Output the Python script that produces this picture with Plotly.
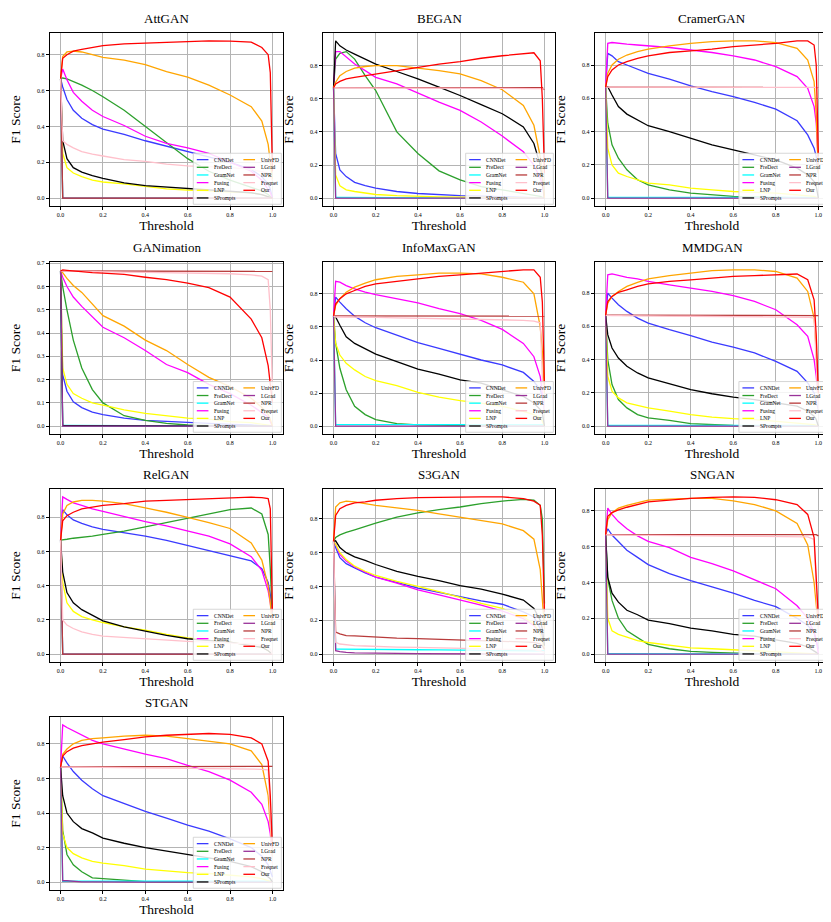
import plotly.graph_objects as go

# thresholds shared by every curve
thresholds = [0.0, 0.01, 0.03, 0.06, 0.1, 0.15, 0.2, 0.3, 0.4, 0.5, 0.6, 0.7, 0.8, 0.9, 0.95, 0.98, 0.99, 1.0]

methods = ["CNNDet", "FreDect", "GramNet", "Fusing", "LNP", "SPrompts",
           "UnivFD", "LGrad", "NPR", "Freqnet", "Our"]
colors = ["#3a3aff", "#2ca02c", "#00ffff", "#ff00ff", "#ffff00", "#000000",
          "#ffa500", "#993399", "#b83b3b", "#ffc0cb", "#ff0000"]

panel_names = ["AttGAN", "BEGAN", "CramerGAN", "GANimation", "InfoMaxGAN",
               "MMDGAN", "RelGAN", "S3GAN", "SNGAN", "STGAN"]

attgan = {
    "CNNDet": [0.667, 0.62, 0.55, 0.49, 0.445, 0.41, 0.385, 0.355, 0.32, 0.29, 0.26, 0.23, 0.20, 0.16, 0.12, 0.08, 0.05, 0.0],
    "FreDect": [0.667, 0.67, 0.665, 0.65, 0.63, 0.60, 0.565, 0.49, 0.40, 0.31, 0.22, 0.15, 0.10, 0.06, 0.04, 0.02, 0.01, 0.0],
    "GramNet": [0.667, 0.0, 0.0, 0.0, 0.0, 0.0, 0.0, 0.0, 0.0, 0.0, 0.0, 0.0, 0.0, 0.0, 0.0, 0.0, 0.0, 0.0],
    "Fusing": [0.667, 0.72, 0.66, 0.59, 0.54, 0.49, 0.455, 0.405, 0.345, 0.305, 0.28, 0.25, 0.20, 0.15, 0.10, 0.05, 0.03, 0.0],
    "LNP": [0.667, 0.25, 0.17, 0.14, 0.12, 0.10, 0.09, 0.08, 0.065, 0.052, 0.045, 0.04, 0.035, 0.03, 0.02, 0.01, 0.005, 0.0],
    "SPrompts": [0.667, 0.32, 0.22, 0.17, 0.145, 0.125, 0.11, 0.085, 0.07, 0.062, 0.055, 0.05, 0.04, 0.03, 0.02, 0.01, 0.005, 0.0],
    "UnivFD": [0.667, 0.79, 0.815, 0.82, 0.815, 0.80, 0.785, 0.77, 0.745, 0.705, 0.675, 0.63, 0.575, 0.51, 0.43, 0.30, 0.20, 0.10],
    "LGrad": [0.667, 0.0, 0.0, 0.0, 0.0, 0.0, 0.0, 0.0, 0.0, 0.0, 0.0, 0.0, 0.0, 0.0, 0.0, 0.0, 0.0, 0.0],
    "NPR": [0.667, 0.0, 0.0, 0.0, 0.0, 0.0, 0.0, 0.0, 0.0, 0.0, 0.0, 0.0, 0.0, 0.0, 0.0, 0.0, 0.0, 0.0],
    "Freqnet": [0.667, 0.32, 0.30, 0.28, 0.26, 0.245, 0.235, 0.215, 0.205, 0.19, 0.18, 0.175, 0.17, 0.16, 0.15, 0.14, 0.12, 0.10],
    "Our": [0.667, 0.78, 0.80, 0.82, 0.83, 0.84, 0.85, 0.86, 0.865, 0.87, 0.875, 0.877, 0.875, 0.87, 0.84, 0.80, 0.70, 0.15],
}

began = {
    "CNNDet": [0.667, 0.27, 0.17, 0.13, 0.095, 0.075, 0.06, 0.04, 0.028, 0.02, 0.015, 0.012, 0.01, 0.008, 0.006, 0.004, 0.002, 0.0],
    "FreDect": [0.667, 0.84, 0.875, 0.885, 0.84, 0.74, 0.65, 0.40, 0.27, 0.165, 0.11, 0.07, 0.05, 0.03, 0.02, 0.01, 0.005, 0.0],
    "GramNet": [0.667, 0.004, 0.004, 0.004, 0.004, 0.004, 0.004, 0.004, 0.004, 0.004, 0.004, 0.004, 0.004, 0.004, 0.004, 0.004, 0.004, 0.0],
    "Fusing": [0.667, 0.885, 0.885, 0.855, 0.81, 0.77, 0.73, 0.69, 0.635, 0.58, 0.53, 0.46, 0.375, 0.28, 0.20, 0.12, 0.08, 0.0],
    "LNP": [0.667, 0.14, 0.075, 0.05, 0.04, 0.03, 0.022, 0.015, 0.01, 0.008, 0.006, 0.005, 0.004, 0.003, 0.002, 0.001, 0.0, 0.0],
    "SPrompts": [0.667, 0.95, 0.92, 0.895, 0.87, 0.84, 0.81, 0.765, 0.72, 0.67, 0.62, 0.565, 0.51, 0.43, 0.33, 0.20, 0.12, 0.0],
    "UnivFD": [0.667, 0.70, 0.74, 0.765, 0.785, 0.795, 0.80, 0.80, 0.785, 0.77, 0.75, 0.71, 0.655, 0.56, 0.44, 0.25, 0.15, 0.0],
    "LGrad": [0.667, 0.0, 0.0, 0.0, 0.0, 0.0, 0.0, 0.0, 0.0, 0.0, 0.0, 0.0, 0.0, 0.0, 0.0, 0.0, 0.0, 0.0],
    "NPR": [0.667, 0.667, 0.667, 0.667, 0.667, 0.667, 0.667, 0.667, 0.667, 0.667, 0.667, 0.667, 0.667, 0.667, 0.667, 0.667, 0.667, 0.655],
    "Freqnet": [0.667, 0.666, 0.666, 0.666, 0.666, 0.666, 0.665, 0.665, 0.665, 0.665, 0.665, 0.664, 0.664, 0.663, 0.662, 0.661, 0.66, 0.66],
    "Our": [0.667, 0.69, 0.705, 0.72, 0.73, 0.74, 0.75, 0.77, 0.79, 0.81, 0.825, 0.845, 0.86, 0.875, 0.878, 0.83, 0.60, 0.15],
}

cramergan = {
    "CNNDet": [0.667, 0.87, 0.855, 0.82, 0.80, 0.775, 0.75, 0.715, 0.675, 0.64, 0.61, 0.575, 0.535, 0.465, 0.38, 0.30, 0.25, 0.15],
    "FreDect": [0.667, 0.45, 0.32, 0.24, 0.17, 0.11, 0.08, 0.05, 0.03, 0.018, 0.01, 0.007, 0.005, 0.003, 0.002, 0.001, 0.0, 0.0],
    "GramNet": [0.667, 0.005, 0.005, 0.005, 0.005, 0.005, 0.005, 0.005, 0.005, 0.005, 0.005, 0.005, 0.005, 0.005, 0.005, 0.005, 0.005, 0.0],
    "Fusing": [0.667, 0.93, 0.935, 0.93, 0.925, 0.92, 0.915, 0.905, 0.89, 0.875, 0.855, 0.83, 0.79, 0.73, 0.66, 0.55, 0.45, 0.20],
    "LNP": [0.667, 0.30, 0.20, 0.15, 0.13, 0.11, 0.09, 0.08, 0.06, 0.05, 0.04, 0.035, 0.03, 0.02, 0.015, 0.01, 0.005, 0.0],
    "SPrompts": [0.667, 0.67, 0.62, 0.55, 0.505, 0.47, 0.435, 0.40, 0.36, 0.32, 0.29, 0.26, 0.23, 0.18, 0.14, 0.10, 0.07, 0.0],
    "UnivFD": [0.667, 0.75, 0.80, 0.835, 0.86, 0.88, 0.895, 0.915, 0.93, 0.94, 0.945, 0.945, 0.935, 0.90, 0.83, 0.70, 0.50, 0.15],
    "LGrad": [0.667, 0.0, 0.0, 0.0, 0.0, 0.0, 0.0, 0.0, 0.0, 0.0, 0.0, 0.0, 0.0, 0.0, 0.0, 0.0, 0.0, 0.0],
    "NPR": [0.667, 0.667, 0.667, 0.667, 0.667, 0.667, 0.667, 0.667, 0.667, 0.667, 0.667, 0.667, 0.667, 0.667, 0.667, 0.667, 0.667, 0.665],
    "Freqnet": [0.667, 0.667, 0.667, 0.667, 0.667, 0.666, 0.666, 0.666, 0.666, 0.666, 0.666, 0.665, 0.665, 0.665, 0.665, 0.665, 0.665, 0.66],
    "Our": [0.667, 0.73, 0.77, 0.80, 0.82, 0.84, 0.855, 0.875, 0.885, 0.895, 0.91, 0.92, 0.93, 0.945, 0.945, 0.92, 0.80, 0.25],
}

ganimation = {
    "CNNDet": [0.667, 0.22, 0.15, 0.105, 0.08, 0.06, 0.05, 0.035, 0.025, 0.02, 0.015, 0.01, 0.008, 0.005, 0.003, 0.002, 0.001, 0.0],
    "FreDect": [0.667, 0.60, 0.50, 0.37, 0.25, 0.157, 0.10, 0.045, 0.025, 0.012, 0.005, 0.002, 0.001, 0.0, 0.0, 0.0, 0.0, 0.0],
    "GramNet": [0.667, 0.003, 0.003, 0.003, 0.003, 0.003, 0.003, 0.003, 0.003, 0.003, 0.003, 0.003, 0.003, 0.003, 0.003, 0.003, 0.003, 0.0],
    "Fusing": [0.667, 0.64, 0.60, 0.555, 0.515, 0.47, 0.425, 0.38, 0.325, 0.265, 0.23, 0.18, 0.14, 0.09, 0.06, 0.04, 0.02, 0.0],
    "LNP": [0.667, 0.25, 0.18, 0.14, 0.12, 0.10, 0.09, 0.07, 0.055, 0.045, 0.035, 0.03, 0.02, 0.015, 0.01, 0.005, 0.003, 0.0],
    "SPrompts": [0.667, 0.002, 0.002, 0.002, 0.002, 0.002, 0.002, 0.002, 0.002, 0.002, 0.002, 0.002, 0.002, 0.002, 0.002, 0.002, 0.002, 0.0],
    "UnivFD": [0.667, 0.66, 0.635, 0.605, 0.575, 0.525, 0.475, 0.43, 0.37, 0.325, 0.265, 0.21, 0.17, 0.12, 0.08, 0.05, 0.03, 0.0],
    "LGrad": [0.667, 0.0, 0.0, 0.0, 0.0, 0.0, 0.0, 0.0, 0.0, 0.0, 0.0, 0.0, 0.0, 0.0, 0.0, 0.0, 0.0, 0.0],
    "NPR": [0.667, 0.667, 0.667, 0.667, 0.667, 0.667, 0.667, 0.667, 0.667, 0.667, 0.667, 0.667, 0.667, 0.667, 0.667, 0.667, 0.667, 0.665],
    "Freqnet": [0.667, 0.668, 0.667, 0.666, 0.665, 0.664, 0.663, 0.662, 0.661, 0.66, 0.658, 0.657, 0.655, 0.65, 0.645, 0.63, 0.50, 0.15],
    "Our": [0.667, 0.672, 0.67, 0.667, 0.662, 0.66, 0.658, 0.652, 0.64, 0.63, 0.615, 0.595, 0.555, 0.46, 0.38, 0.26, 0.18, 0.10],
}

infomaxgan = {
    "CNNDet": [0.667, 0.78, 0.75, 0.71, 0.665, 0.625, 0.595, 0.55, 0.505, 0.47, 0.435, 0.40, 0.37, 0.325, 0.27, 0.22, 0.18, 0.10],
    "FreDect": [0.667, 0.50, 0.35, 0.22, 0.12, 0.07, 0.04, 0.015, 0.008, 0.005, 0.003, 0.002, 0.001, 0.0, 0.0, 0.0, 0.0, 0.0],
    "GramNet": [0.667, 0.01, 0.01, 0.01, 0.01, 0.01, 0.01, 0.01, 0.01, 0.01, 0.01, 0.01, 0.01, 0.01, 0.01, 0.01, 0.01, 0.01],
    "Fusing": [0.667, 0.875, 0.87, 0.85, 0.83, 0.81, 0.795, 0.77, 0.745, 0.71, 0.68, 0.64, 0.585, 0.50, 0.42, 0.30, 0.20, 0.10],
    "LNP": [0.667, 0.50, 0.43, 0.38, 0.34, 0.30, 0.275, 0.245, 0.205, 0.175, 0.155, 0.14, 0.12, 0.09, 0.07, 0.05, 0.03, 0.0],
    "SPrompts": [0.667, 0.66, 0.61, 0.54, 0.50, 0.465, 0.435, 0.39, 0.345, 0.315, 0.28, 0.26, 0.22, 0.18, 0.14, 0.10, 0.08, 0.0],
    "UnivFD": [0.667, 0.73, 0.77, 0.81, 0.84, 0.865, 0.885, 0.905, 0.915, 0.925, 0.925, 0.92, 0.90, 0.87, 0.80, 0.60, 0.45, 0.20],
    "LGrad": [0.667, 0.0, 0.0, 0.0, 0.0, 0.0, 0.0, 0.0, 0.0, 0.0, 0.0, 0.0, 0.0, 0.0, 0.0, 0.0, 0.0, 0.0],
    "NPR": [0.667, 0.667, 0.667, 0.667, 0.667, 0.667, 0.667, 0.667, 0.667, 0.667, 0.667, 0.667, 0.667, 0.667, 0.667, 0.667, 0.667, 0.665],
    "Freqnet": [0.667, 0.66, 0.66, 0.66, 0.66, 0.658, 0.657, 0.655, 0.653, 0.65, 0.648, 0.645, 0.643, 0.64, 0.635, 0.625, 0.30, 0.10],
    "Our": [0.667, 0.74, 0.77, 0.80, 0.82, 0.845, 0.86, 0.875, 0.89, 0.905, 0.915, 0.925, 0.935, 0.945, 0.945, 0.90, 0.75, 0.25],
}

mmdgan = {
    "CNNDet": [0.667, 0.80, 0.77, 0.73, 0.69, 0.65, 0.62, 0.58, 0.545, 0.505, 0.475, 0.44, 0.39, 0.33, 0.26, 0.20, 0.15, 0.10],
    "FreDect": [0.667, 0.40, 0.25, 0.16, 0.11, 0.07, 0.05, 0.035, 0.015, 0.008, 0.004, 0.002, 0.001, 0.0, 0.0, 0.0, 0.0, 0.0],
    "GramNet": [0.667, 0.005, 0.005, 0.005, 0.005, 0.005, 0.005, 0.005, 0.005, 0.005, 0.005, 0.005, 0.005, 0.005, 0.005, 0.005, 0.005, 0.0],
    "Fusing": [0.667, 0.91, 0.915, 0.905, 0.895, 0.885, 0.87, 0.85, 0.83, 0.81, 0.785, 0.75, 0.70, 0.61, 0.54, 0.40, 0.30, 0.15],
    "LNP": [0.667, 0.30, 0.21, 0.17, 0.14, 0.125, 0.11, 0.09, 0.07, 0.055, 0.045, 0.04, 0.03, 0.02, 0.015, 0.01, 0.005, 0.0],
    "SPrompts": [0.667, 0.55, 0.47, 0.41, 0.36, 0.32, 0.29, 0.255, 0.22, 0.195, 0.175, 0.16, 0.14, 0.12, 0.09, 0.06, 0.04, 0.0],
    "UnivFD": [0.667, 0.74, 0.78, 0.81, 0.84, 0.865, 0.885, 0.905, 0.92, 0.935, 0.94, 0.94, 0.93, 0.89, 0.81, 0.65, 0.45, 0.15],
    "LGrad": [0.667, 0.0, 0.0, 0.0, 0.0, 0.0, 0.0, 0.0, 0.0, 0.0, 0.0, 0.0, 0.0, 0.0, 0.0, 0.0, 0.0, 0.0],
    "NPR": [0.667, 0.667, 0.667, 0.667, 0.667, 0.667, 0.667, 0.667, 0.667, 0.667, 0.667, 0.667, 0.667, 0.667, 0.667, 0.667, 0.667, 0.665],
    "Freqnet": [0.667, 0.665, 0.665, 0.665, 0.664, 0.664, 0.663, 0.662, 0.661, 0.66, 0.659, 0.658, 0.657, 0.656, 0.655, 0.65, 0.40, 0.10],
    "Our": [0.667, 0.75, 0.78, 0.805, 0.82, 0.84, 0.855, 0.87, 0.88, 0.89, 0.90, 0.905, 0.91, 0.915, 0.88, 0.76, 0.55, 0.20],
}

relgan = {
    "CNNDet": [0.667, 0.845, 0.815, 0.785, 0.765, 0.745, 0.73, 0.71, 0.69, 0.665, 0.635, 0.605, 0.575, 0.545, 0.50, 0.42, 0.35, 0.20],
    "FreDect": [0.667, 0.668, 0.672, 0.678, 0.683, 0.69, 0.70, 0.72, 0.745, 0.77, 0.795, 0.82, 0.845, 0.855, 0.82, 0.70, 0.50, 0.20],
    "GramNet": [0.667, 0.0, 0.0, 0.0, 0.0, 0.0, 0.0, 0.0, 0.0, 0.0, 0.0, 0.0, 0.0, 0.0, 0.0, 0.0, 0.0, 0.0],
    "Fusing": [0.667, 0.92, 0.905, 0.885, 0.87, 0.85, 0.835, 0.805, 0.775, 0.75, 0.72, 0.69, 0.645, 0.57, 0.49, 0.37, 0.30, 0.20],
    "LNP": [0.667, 0.42, 0.30, 0.25, 0.22, 0.20, 0.185, 0.16, 0.14, 0.115, 0.095, 0.08, 0.07, 0.05, 0.04, 0.02, 0.01, 0.0],
    "SPrompts": [0.667, 0.48, 0.36, 0.30, 0.26, 0.225, 0.195, 0.16, 0.135, 0.11, 0.09, 0.08, 0.07, 0.05, 0.04, 0.02, 0.01, 0.0],
    "UnivFD": [0.667, 0.82, 0.87, 0.89, 0.90, 0.90, 0.895, 0.88, 0.855, 0.83, 0.80, 0.77, 0.735, 0.65, 0.55, 0.40, 0.30, 0.15],
    "LGrad": [0.667, 0.0, 0.0, 0.0, 0.0, 0.0, 0.0, 0.0, 0.0, 0.0, 0.0, 0.0, 0.0, 0.0, 0.0, 0.0, 0.0, 0.0],
    "NPR": [0.667, 0.0, 0.0, 0.0, 0.0, 0.0, 0.0, 0.0, 0.0, 0.0, 0.0, 0.0, 0.0, 0.0, 0.0, 0.0, 0.0, 0.0],
    "Freqnet": [0.667, 0.20, 0.17, 0.15, 0.13, 0.115, 0.105, 0.097, 0.09, 0.08, 0.075, 0.07, 0.065, 0.06, 0.05, 0.04, 0.03, 0.0],
    "Our": [0.667, 0.78, 0.81, 0.83, 0.85, 0.86, 0.87, 0.88, 0.895, 0.90, 0.905, 0.91, 0.915, 0.918, 0.915, 0.91, 0.85, 0.25],
}

s3gan = {
    "CNNDet": [0.667, 0.63, 0.57, 0.535, 0.51, 0.48, 0.455, 0.425, 0.39, 0.365, 0.34, 0.315, 0.295, 0.25, 0.22, 0.15, 0.10, 0.05],
    "FreDect": [0.667, 0.69, 0.705, 0.72, 0.735, 0.755, 0.775, 0.81, 0.835, 0.855, 0.87, 0.89, 0.905, 0.915, 0.91, 0.88, 0.80, 0.30],
    "GramNet": [0.667, 0.03, 0.03, 0.03, 0.029, 0.029, 0.028, 0.027, 0.026, 0.025, 0.023, 0.022, 0.021, 0.02, 0.02, 0.02, 0.02, 0.02],
    "Fusing": [0.667, 0.65, 0.59, 0.55, 0.515, 0.485, 0.455, 0.42, 0.38, 0.35, 0.32, 0.29, 0.255, 0.21, 0.17, 0.12, 0.08, 0.03],
    "LNP": [0.667, 0.65, 0.60, 0.56, 0.52, 0.49, 0.465, 0.43, 0.40, 0.37, 0.335, 0.30, 0.27, 0.22, 0.18, 0.12, 0.08, 0.03],
    "SPrompts": [0.667, 0.67, 0.63, 0.60, 0.575, 0.555, 0.53, 0.49, 0.46, 0.435, 0.405, 0.385, 0.355, 0.32, 0.27, 0.20, 0.15, 0.05],
    "UnivFD": [0.667, 0.87, 0.895, 0.905, 0.90, 0.89, 0.88, 0.865, 0.85, 0.83, 0.81, 0.79, 0.77, 0.73, 0.68, 0.50, 0.35, 0.15],
    "LGrad": [0.667, 0.02, 0.015, 0.01, 0.008, 0.006, 0.005, 0.004, 0.003, 0.002, 0.002, 0.001, 0.001, 0.0, 0.0, 0.0, 0.0, 0.0],
    "NPR": [0.667, 0.13, 0.12, 0.11, 0.108, 0.104, 0.10, 0.095, 0.092, 0.088, 0.085, 0.082, 0.08, 0.075, 0.07, 0.06, 0.05, 0.03],
    "Freqnet": [0.667, 0.07, 0.06, 0.055, 0.05, 0.048, 0.045, 0.042, 0.04, 0.037, 0.035, 0.033, 0.03, 0.028, 0.025, 0.02, 0.015, 0.01],
    "Our": [0.667, 0.82, 0.86, 0.88, 0.895, 0.90, 0.91, 0.92, 0.925, 0.928, 0.93, 0.93, 0.93, 0.92, 0.905, 0.88, 0.70, 0.25],
}

sngan = {
    "CNNDet": [0.667, 0.70, 0.665, 0.63, 0.58, 0.54, 0.50, 0.45, 0.41, 0.375, 0.34, 0.30, 0.265, 0.20, 0.16, 0.12, 0.08, 0.03],
    "FreDect": [0.667, 0.42, 0.30, 0.20, 0.13, 0.09, 0.055, 0.03, 0.015, 0.01, 0.005, 0.003, 0.002, 0.001, 0.0, 0.0, 0.0, 0.0],
    "GramNet": [0.667, 0.003, 0.003, 0.003, 0.003, 0.003, 0.003, 0.003, 0.003, 0.003, 0.003, 0.003, 0.003, 0.003, 0.003, 0.003, 0.003, 0.0],
    "Fusing": [0.667, 0.815, 0.78, 0.74, 0.70, 0.66, 0.63, 0.595, 0.54, 0.505, 0.465, 0.415, 0.365, 0.27, 0.20, 0.12, 0.08, 0.0],
    "LNP": [0.667, 0.20, 0.13, 0.11, 0.095, 0.075, 0.065, 0.05, 0.035, 0.03, 0.025, 0.02, 0.015, 0.01, 0.005, 0.003, 0.002, 0.0],
    "SPrompts": [0.667, 0.43, 0.34, 0.29, 0.245, 0.22, 0.19, 0.17, 0.145, 0.13, 0.11, 0.10, 0.08, 0.06, 0.04, 0.02, 0.01, 0.0],
    "UnivFD": [0.667, 0.75, 0.79, 0.815, 0.83, 0.845, 0.86, 0.865, 0.87, 0.87, 0.855, 0.835, 0.80, 0.73, 0.61, 0.40, 0.28, 0.15],
    "LGrad": [0.667, 0.0, 0.0, 0.0, 0.0, 0.0, 0.0, 0.0, 0.0, 0.0, 0.0, 0.0, 0.0, 0.0, 0.0, 0.0, 0.0, 0.0],
    "NPR": [0.667, 0.667, 0.667, 0.667, 0.667, 0.667, 0.667, 0.667, 0.667, 0.667, 0.667, 0.667, 0.667, 0.667, 0.667, 0.667, 0.667, 0.66],
    "Freqnet": [0.667, 0.665, 0.665, 0.664, 0.664, 0.663, 0.663, 0.662, 0.661, 0.66, 0.659, 0.658, 0.657, 0.656, 0.655, 0.64, 0.40, 0.10],
    "Our": [0.667, 0.77, 0.79, 0.805, 0.82, 0.835, 0.85, 0.86, 0.87, 0.875, 0.878, 0.875, 0.862, 0.835, 0.78, 0.65, 0.45, 0.20],
}

stgan = {
    "CNNDet": [0.667, 0.73, 0.69, 0.64, 0.59, 0.54, 0.50, 0.455, 0.41, 0.37, 0.33, 0.295, 0.25, 0.20, 0.15, 0.10, 0.07, 0.03],
    "FreDect": [0.667, 0.30, 0.16, 0.10, 0.06, 0.025, 0.02, 0.01, 0.003, 0.001, 0.0, 0.0, 0.0, 0.0, 0.0, 0.0, 0.0, 0.0],
    "GramNet": [0.667, 0.005, 0.005, 0.005, 0.005, 0.005, 0.005, 0.005, 0.005, 0.005, 0.005, 0.005, 0.005, 0.005, 0.005, 0.005, 0.005, 0.0],
    "Fusing": [0.667, 0.91, 0.895, 0.875, 0.85, 0.82, 0.80, 0.77, 0.74, 0.715, 0.675, 0.64, 0.59, 0.52, 0.45, 0.35, 0.28, 0.15],
    "LNP": [0.667, 0.28, 0.20, 0.165, 0.14, 0.12, 0.11, 0.095, 0.075, 0.065, 0.055, 0.05, 0.04, 0.03, 0.02, 0.01, 0.005, 0.0],
    "SPrompts": [0.667, 0.50, 0.40, 0.35, 0.31, 0.285, 0.255, 0.225, 0.20, 0.18, 0.16, 0.14, 0.12, 0.09, 0.06, 0.03, 0.02, 0.0],
    "UnivFD": [0.667, 0.74, 0.77, 0.80, 0.82, 0.83, 0.835, 0.845, 0.85, 0.845, 0.83, 0.815, 0.80, 0.76, 0.68, 0.50, 0.35, 0.15],
    "LGrad": [0.667, 0.008, 0.008, 0.004, 0.002, 0.001, 0.0, 0.0, 0.0, 0.0, 0.0, 0.0, 0.0, 0.0, 0.0, 0.0, 0.0, 0.0],
    "NPR": [0.667, 0.667, 0.667, 0.667, 0.667, 0.667, 0.667, 0.667, 0.667, 0.667, 0.667, 0.667, 0.667, 0.667, 0.667, 0.667, 0.667, 0.67],
    "Freqnet": [0.667, 0.665, 0.665, 0.665, 0.664, 0.664, 0.663, 0.662, 0.661, 0.66, 0.659, 0.658, 0.657, 0.655, 0.653, 0.65, 0.40, 0.10],
    "Our": [0.667, 0.73, 0.755, 0.775, 0.79, 0.80, 0.81, 0.825, 0.84, 0.85, 0.855, 0.86, 0.855, 0.835, 0.80, 0.70, 0.50, 0.20],
}

panels = [attgan, began, cramergan, ganimation, infomaxgan, mmdgan, relgan, s3gan, sngan, stgan]

W, H = 831, 922
col_px = [(42, 275), (315, 547), (587, 821)]
row_px = [(25, 198), (254, 426), (481, 654), (709, 882)]

serif = "Liberation Serif"
grid_color = "#b4b4b4"

fig = go.Figure()
shapes = []
annotations = []

for i, (name, data) in enumerate(zip(panel_names, panels)):
    n = "" if i == 0 else str(i + 1)
    r, c = divmod(i, 3)
    x0, x1 = col_px[c]
    y0, y1 = row_px[r]

    for m, col in zip(methods, colors):
        fig.add_trace(go.Scatter(
            x=thresholds, y=data[m], mode="lines", name=m,
            line=dict(color=col, width=1.3),
            xaxis="x" + n, yaxis="y" + n, showlegend=False,
        ))

    ymax = max(max(v) for v in data.values())
    ystep = 0.1 if ymax < 0.75 else 0.2

    fig.update_layout(**{
        "xaxis" + n: dict(
            domain=[x0 / W, x1 / W], anchor="y" + n,
            range=[-0.05, 1.05], tickvals=[0, 0.2, 0.4, 0.6, 0.8, 1.0], tickformat=".1f",
            showgrid=True, gridcolor=grid_color, gridwidth=1.4, zeroline=False,
            showline=True, mirror=True, linecolor="black", linewidth=1.4,
            ticks="outside", ticklen=3, tickcolor="black",
            tickfont=dict(family=serif, size=6, color="black"),
            title=dict(text="Threshold", font=dict(family=serif, size=13.5, color="black"), standoff=1),
            automargin=False,
        ),
        "yaxis" + n: dict(
            domain=[1 - y1 / H, 1 - y0 / H], anchor="x" + n,
            range=[-0.05 * ymax, 1.05 * ymax], dtick=ystep, tick0=0, tickformat=".1f",
            showgrid=True, gridcolor=grid_color, gridwidth=1.4, zeroline=False,
            showline=True, mirror=True, linecolor="black", linewidth=1.4,
            ticks="outside", ticklen=3, tickcolor="black",
            tickfont=dict(family=serif, size=6, color="black"),
            title=dict(text="F1 Score", font=dict(family=serif, size=13.5, color="black"), standoff=13),
            automargin=False,
        ),
    })

    xref = "x" + n + " domain"
    yref = "y" + n + " domain"

    annotations.append(dict(
        text=name, x=0.5, y=1, xref=xref, yref=yref, xanchor="center", yanchor="bottom",
        yshift=5, showarrow=False, font=dict(family=serif, size=13, color="black"),
    ))

    # legend box, lower right, two columns
    shapes.append(dict(
        type="rect", xref=xref, yref=yref, x0=0.615, x1=0.993, y0=0.01, y1=0.305,
        fillcolor="rgba(255,255,255,0.85)", line=dict(color="#cccccc", width=0.8), layer="above",
    ))
    for k, (m, col) in enumerate(zip(methods, colors)):
        cc, rr = divmod(k, 6)
        ly = 0.268 - rr * 0.0443
        lx0 = 0.63 + cc * 0.20
        shapes.append(dict(
            type="line", xref=xref, yref=yref, x0=lx0, x1=lx0 + 0.05, y0=ly, y1=ly,
            line=dict(color=col, width=1.3), layer="above",
        ))
        annotations.append(dict(
            text=m, x=lx0 + 0.065, y=ly, xref=xref, yref=yref, xanchor="left", yanchor="middle",
            showarrow=False, font=dict(family=serif, size=5.5, color="black"),
        ))

fig.update_layout(
    width=W, height=H,
    margin=dict(l=0, r=0, t=0, b=0),
    paper_bgcolor="white", plot_bgcolor="white",
    shapes=shapes, annotations=annotations,
    showlegend=False,
)

fig.write_html("out.html")
